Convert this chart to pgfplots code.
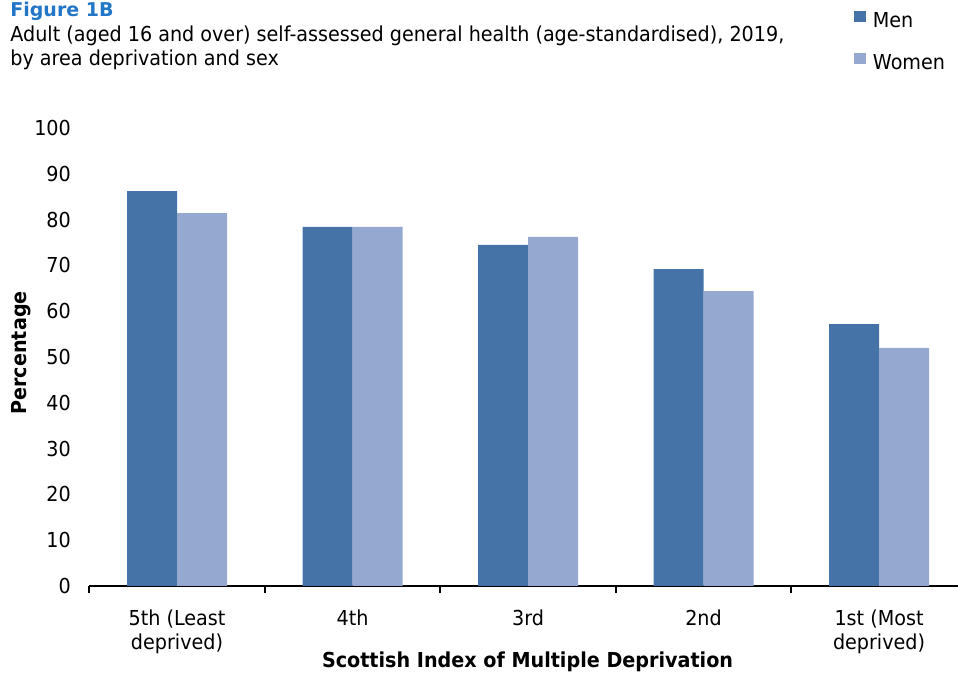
\documentclass[border=0pt]{standalone}
\usepackage{fontspec}
\setmainfont{DejaVu Sans}[FakeStretch=0.93]
\newfontfamily\titlefont{DejaVu Sans}
\usepackage{pgfplots}
\pgfplotsset{compat=1.18}
\definecolor{men}{RGB}{69,115,167}
\definecolor{women}{RGB}{149,169,208}
\definecolor{titleblue}{RGB}{33,118,199}
\pgfplotstableread{
x men women
0 86.2 81.4
1 78.4 78.4
2 74.5 76.2
3 69.2 64.4
4 57.2 52.0
}\datatable
\begin{document}
\begin{tikzpicture}
\path[use as bounding box] (0,0) rectangle (479pt,336.5pt);
\begin{axis}[
  at={(44.625pt,43.5pt)}, anchor=south west,
  scale only axis, width=434.375pt, height=229pt,
  ymin=0, ymax=100, xmin=-0.5, xmax=4.45,
  ybar=0pt, bar width=25pt,
  /pgf/number format/assume math mode=true,
  ytick={0,10,...,100},
  xtick={0,1,2,3,4},
  xticklabels={{5th (Least\\deprived)},4th,3rd,2nd,{1st (Most\\deprived)}},
  minor xtick={-0.5,0.5,1.5,2.5,3.5},
  major tick length=0pt, minor tick length=3.5pt, tick align=outside,
  major x tick style={draw=none},
  minor x tick style={black, line width=0.8pt},
  ytick style={draw=none},
  axis x line*=bottom, axis y line*=left,
  x axis line style={-, black, line width=0.9pt},
  y axis line style={draw=none},
  tick label style={font=\fontsize{10.3}{12}\selectfont},
  xticklabel style={align=center, inner sep=0pt, anchor=north, yshift=-11.5pt},
  yticklabel style={inner sep=0pt, anchor=east, xshift=-9pt},
  ylabel={Percentage},
  ylabel style={font=\bfseries\fontsize{10.3}{12}\selectfont, at={(axis description cs:-0.0786,0.509)}, anchor=center},
  xlabel={Scottish Index of Multiple Deprivation},
  xlabel style={font=\bfseries\fontsize{10.3}{12}\selectfont, at={(axis description cs:0.5045,-0.179)}, anchor=base, inner sep=0pt},
  legend style={draw=none, fill=none, at={(axis description cs:0.8803,1.257)}, anchor=north west,
    inner sep=0pt, font=\fontsize{10.3}{12}\selectfont, row sep=12.7pt, column sep=3.5pt,
    nodes={inner sep=0pt, text height=7.3pt, text depth=0pt}},
  legend cell align=left,
]
\addplot[fill=men, draw=none, legend image code/.code={\fill[men] (0pt,-1pt) rectangle (5.75pt,4.75pt);}] table[x=x, y=men] {\datatable};
\addplot[fill=women, draw=none, legend image code/.code={\fill[women] (0pt,-1pt) rectangle (5.75pt,4.75pt);}] table[x=x, y=women] {\datatable};
\legend{Men, Women}
\end{axis}
\node[anchor=base west, inner sep=0pt, text=titleblue, font=\titlefont\bfseries\fontsize{9.5}{11}\selectfont] at (5pt,328pt) {Figure 1B};
\node[anchor=base west, inner sep=0pt, font=\fontsize{10.3}{12}\selectfont] at (5pt,315.5pt) {Adult (aged 16 and over) self-assessed general health (age-standardised), 2019,};
\node[anchor=base west, inner sep=0pt, font=\fontsize{10.3}{12}\selectfont] at (5pt,303.5pt) {by area deprivation and sex};
\end{tikzpicture}
\end{document}
